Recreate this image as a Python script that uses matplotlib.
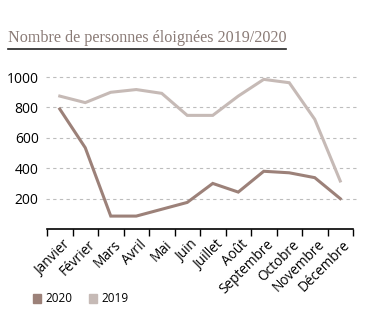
import matplotlib
matplotlib.use("Agg")
import matplotlib.pyplot as plt
from matplotlib.patches import Patch
from matplotlib.lines import Line2D

months = ["Janvier", "Février", "Mars", "Avril", "Mai", "Juin", "Juillet",
          "Août", "Septembre", "Octobre", "Novembre", "Décembre"]
v2020 = [790, 535, 85, 85, 130, 175, 300, 243, 380, 370, 338, 200]
v2019 = [875, 832, 900, 918, 893, 748, 748, 875, 985, 963, 722, 316]
yticks = [200, 400, 600, 800, 1000]

c2020 = "#9c8179"
c2019 = "#c6bab6"

fig = plt.figure(figsize=(3.7, 3.26), dpi=100)
ax = fig.add_axes([47/370, 1-229/326, 306/370, 159.5/326])

x = list(range(len(months)))
ax.plot(x, v2019, color=c2019, lw=2.2, solid_joinstyle="miter")
ax.plot(x, v2020, color=c2020, lw=2.2, solid_joinstyle="miter")

ax.set_xlim(-0.5, 11.5)
ax.set_ylim(0, 1050)
for v in yticks:
    ax.axhline(v, xmin=-0.003, xmax=1.013, color="#bdbdbd", lw=0.8,
               ls=(0, (3, 3)), zorder=0, clip_on=False)

ax.set_yticks(yticks)
ax.set_yticklabels([str(v) for v in yticks], fontsize=10, family="Open Sans")
ax.tick_params(axis="y", length=0, pad=6)

ax.set_xticks([i - 0.5 for i in range(13)])
ax.set_xticklabels([])
ax.set_xticks([i + 0.1 for i in x], minor=True)
ax.set_xticklabels(months, minor=True, rotation=45, ha="right",
                   rotation_mode="anchor", fontsize=9.8, family="Open Sans")
ax.tick_params(axis="x", which="major", length=5, width=1, color="black", direction="out")
ax.tick_params(axis="x", which="minor", length=0, pad=6)

for s in ["left", "right", "top"]:
    ax.spines[s].set_visible(False)
ax.spines["bottom"].set_linewidth(1.2)

fig.text(8/370, 1-38/326, "Nombre de personnes éloignées 2019/2020",
         fontsize=11.6, family="Liberation Serif", color="#8a7b76", va="center")
fig.add_artist(Line2D([8/370, 286/370], [1-49/326, 1-49/326], color="#222222", lw=1.2))

handles = [Patch(color=c2020, label="2020"), Patch(color=c2019, label="2019")]
fig.legend(handles=handles, loc="center left", bbox_to_anchor=(22/370, 1-299/326),
           ncol=2, frameon=False, handlelength=0.75, handleheight=0.75,
           handletextpad=0.3, columnspacing=1.4, prop={"family": "Open Sans", "size": 8.5})

fig.savefig("out.png", dpi=100, facecolor="white")
